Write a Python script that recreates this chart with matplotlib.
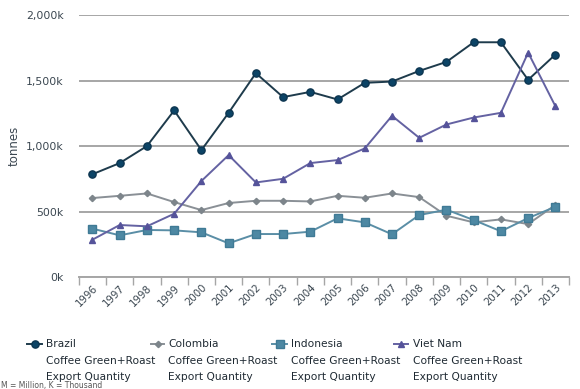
import matplotlib
matplotlib.use("Agg")
import matplotlib.pyplot as plt
from matplotlib.lines import Line2D

years = list(range(1996, 2014))
brazil = [785, 870, 1000, 1272, 969, 1254, 1557, 1374, 1414, 1356, 1483, 1493,
          1574, 1643, 1793, 1793, 1506, 1699]
colombia = [603, 620, 638, 572, 511, 565, 582, 582, 577, 620, 605, 638,
            610, 468, 417, 440, 404, 550]
indonesia = [369, 318, 359, 356, 341, 257, 328, 328, 346, 448, 417, 326,
             473, 514, 435, 349, 450, 536]
vietnam = [285, 397, 387, 483, 733, 931, 722, 750, 870, 893, 982, 1231,
           1063, 1165, 1218, 1254, 1714, 1305]

y_ticks = [0, 500, 1000, 1500, 2000]
y_tick_labels = ["0k", "500k", "1,000k", "1,500k", "2,000k"]

series = [
    ("Brazil", brazil, dict(color="#1e3b4c", marker="o", ms=5.2, mfc="#0c4466", mec="#0c3550")),
    ("Colombia", colombia, dict(color="#8a9096", marker="D", ms=3.2, mfc="#7d858b", mec="#7d858b")),
    ("Indonesia", indonesia, dict(color="#5a8ea6", marker="s", ms=5.2, mfc="#4d88a3", mec="#3f7a95")),
    ("Viet Nam", vietnam, dict(color="#6462a2", marker="^", ms=5.0, mfc="#55539a", mec="#55539a")),
]

W, H = 580, 389
fig = plt.figure(figsize=(W / 100, H / 100), dpi=100)
ax = fig.add_axes([0.136, 0.288, 0.845, 0.673])

text_color = "#3a4650"
grid_color = "#a6a6a6"

for name, vals, st in series:
    ax.plot(years, vals, lw=1.4, zorder=3, **st)

ax.set_xlim(1995.5, 2013.5)
ax.set_ylim(0, 2000)
ax.set_yticks(y_ticks)
ax.set_yticklabels(y_tick_labels)
ax.yaxis.grid(True, color=grid_color, lw=1.4)
ax.set_axisbelow(True)

for s in ["top", "right", "left"]:
    ax.spines[s].set_visible(False)
ax.spines["bottom"].set_color(grid_color)
ax.spines["bottom"].set_linewidth(1.4)

ax.tick_params(axis="y", length=0, pad=11, labelsize=7.8, labelcolor=text_color)

# year labels at category centres, tick marks on category boundaries
ax.set_xticks(years)
ax.set_xticklabels([str(y) for y in years], rotation=45, ha="right",
                   rotation_mode="anchor", fontsize=7.4, color=text_color)
ax.tick_params(axis="x", which="major", length=0, pad=4)
ax.set_xticks([y - 0.5 for y in years] + [2013.5], minor=True)
ax.tick_params(axis="x", which="minor", length=6, width=1.0, color=grid_color)

ax.set_ylabel("tonnes", fontsize=8.5, color=text_color)
ax.yaxis.set_label_coords(-0.118, 0.5)

# legend: short line with one marker, followed by a three-line label
handle_x = [(27, 42), (151, 164), (272, 287), (394, 408)]
text_x = [46, 168, 291, 413]
row_y = [344, 360.5, 376.5]
for (name, vals, st), (hx0, hx1), tx in zip(series, handle_x, text_x):
    yf = 1 - row_y[0] / H
    fig.add_artist(Line2D([hx0 / W, hx1 / W], [yf, yf], transform=fig.transFigure,
                          lw=1.4, color=st["color"]))
    mk = {k: v for k, v in st.items() if k != "color"}
    fig.add_artist(Line2D([(hx0 + hx1) / 2 / W], [yf], transform=fig.transFigure,
                          lw=0, **mk))
    for t, ry in zip([name, "Coffee Green+Roast", "Export Quantity"], row_y):
        fig.text(tx / W, 1 - ry / H, t, fontsize=7.7,
                 color="#1f2a33", va="center", ha="left")

fig.text(0.002, 1 - 385.5 / H, "M = Million, K = Thousand", fontsize=5.5,
         color="#555555", va="center", ha="left")

fig.savefig("out.png", dpi=100)
